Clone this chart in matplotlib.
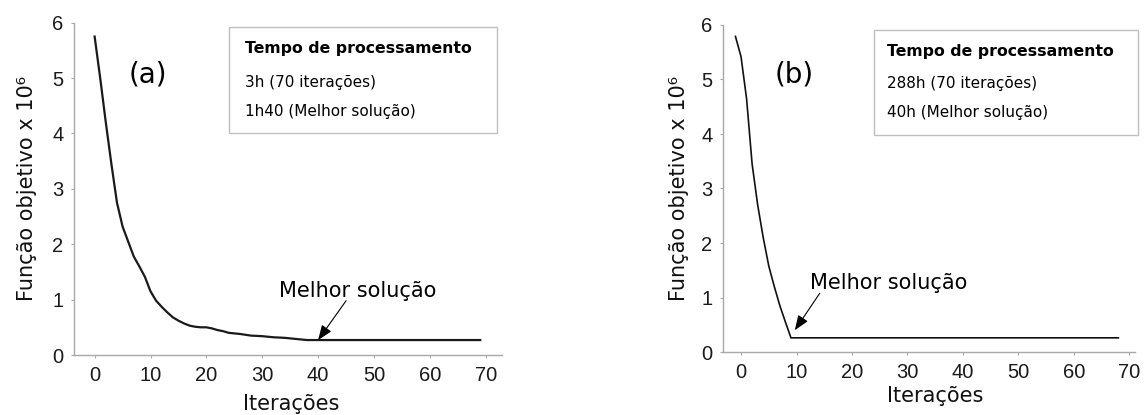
import matplotlib
matplotlib.use("Agg")
import matplotlib.pyplot as plt
from matplotlib.patches import Rectangle

# ---- data ----
iter_a = [0, 1, 2, 3, 4, 5, 6, 7, 8, 9, 10, 11, 12, 13, 14, 15, 16, 17, 18, 19,
          20, 21, 22, 23, 24, 26, 28, 30, 32, 34, 36, 38, 40, 69]
fobj_a = [5.75, 5.00, 4.20, 3.45, 2.75, 2.32, 2.05, 1.78, 1.60, 1.41, 1.15, 0.98,
          0.87, 0.77, 0.68, 0.62, 0.57, 0.53, 0.51, 0.50, 0.50, 0.48, 0.45, 0.43,
          0.40, 0.38, 0.35, 0.34, 0.32, 0.31, 0.29, 0.27, 0.27, 0.27]

iter_b = [-1, 0, 1, 2, 3, 4, 5, 6, 7, 8, 9, 68]
fobj_b = [5.79, 5.42, 4.65, 3.45, 2.70, 2.10, 1.58, 1.20, 0.85, 0.55, 0.26, 0.26]

xticks = [0, 10, 20, 30, 40, 50, 60, 70]
yticks = [0, 1, 2, 3, 4, 5, 6]
ylabel = "Função objetivo x 10⁶"
xlabel = "Iterações"
panel_tags = ["(a)", "(b)"]
box_title = "Tempo de processamento"
box_lines_a = ["3h (70 iterações)", "1h40 (Melhor solução)"]
box_lines_b = ["288h (70 iterações)", "40h (Melhor solução)"]
best_label = "Melhor solução"
best_a = (40, 0.27)
best_b = (9.7, 0.40)

W, H = 1147, 415
fig = plt.figure(figsize=(W / 100, H / 100), dpi=100)

def px_rect(x0, y_top, x1, y_bot):
    return [x0 / W, 1 - y_bot / H, (x1 - x0) / W, (y_bot - y_top) / H]

axA = fig.add_axes(px_rect(74, 22.7, 502, 355))
axB = fig.add_axes(px_rect(722.7, 25, 1135, 352))

spine_col = "#a8a8a8"

def style(ax, xlim):
    ax.set_xlim(*xlim)
    ax.set_ylim(0, 6)
    for s in ["top", "right"]:
        ax.spines[s].set_visible(False)
    for s in ["left", "bottom"]:
        ax.spines[s].set_color(spine_col)
        ax.spines[s].set_linewidth(1.0)
    ax.set_xticks(xticks)
    ax.set_yticks(yticks)
    ax.tick_params(axis="both", direction="out", length=2, width=0.8,
                   color=spine_col, labelsize=14.5, labelcolor="#1a1a1a",
                   labelfontfamily="Liberation Sans")
    ax.tick_params(axis="y", pad=5.5)
    ax.tick_params(axis="x", pad=6.0)

style(axA, (-3.69, 72.9))
style(axB, (-3.3, 71.0))

axA.plot(iter_a, fobj_a, color="#1a1a1a", lw=1.6, solid_joinstyle="round")
axB.plot(iter_b, fobj_b, color="#111111", lw=1.2, solid_joinstyle="miter")

for ax, lx in [(axA, -0.0864), (axB, -0.0825)]:
    ax.set_ylabel(ylabel, fontsize=15, color="#111111")
    ax.yaxis.set_label_coords(lx, 0.5)

axA.set_xlabel(xlabel, fontsize=15, color="#111111", va="top")
axA.xaxis.set_label_coords(0.508, -0.117)
axB.set_xlabel(xlabel, fontsize=15, color="#111111", va="top")
axB.xaxis.set_label_coords(0.515, -0.103)

axA.text(9.5, 5.07, panel_tags[0], fontsize=20, ha="center", va="center")
axB.text(9.5, 5.10, panel_tags[1], fontsize=20, ha="center", va="center")

arrow_kw = dict(arrowstyle="-|>,head_length=0.9,head_width=0.35",
                color="black", lw=0.8, shrinkA=0, shrinkB=0, mutation_scale=10)
axA.annotate("", xy=best_a, xytext=(45, 0.98), arrowprops=arrow_kw)
axA.text(47.1, 1.05, best_label, fontsize=15, ha="center", va="baseline")
axB.annotate("", xy=best_b, xytext=(14.2, 1.08), arrowprops=arrow_kw)
axB.text(26.7, 1.15, best_label, fontsize=15, ha="center", va="baseline")

# processing time boxes
def box(x0, y0, x1, y1, tx, baselines, lines):
    fig.patches.append(Rectangle((x0 / W, 1 - y1 / H), (x1 - x0) / W, (y1 - y0) / H,
                                 transform=fig.transFigure, facecolor="white",
                                 edgecolor="#c0c0c0", lw=1.0))
    fig.text(tx / W, 1 - baselines[0] / H, box_title, fontsize=11.3,
             fontweight="bold", va="baseline", ha="left")
    for bl, t in zip(baselines[1:], lines):
        fig.text(tx / W, 1 - bl / H, t, fontsize=11, va="baseline", ha="left")

box(229, 26.7, 497.3, 133.3, 245, [53, 86.5, 116], box_lines_a)
box(874, 30, 1138, 135, 887, [56, 88, 117.5], box_lines_b)

fig.savefig("out.png", dpi=100, facecolor="white")
